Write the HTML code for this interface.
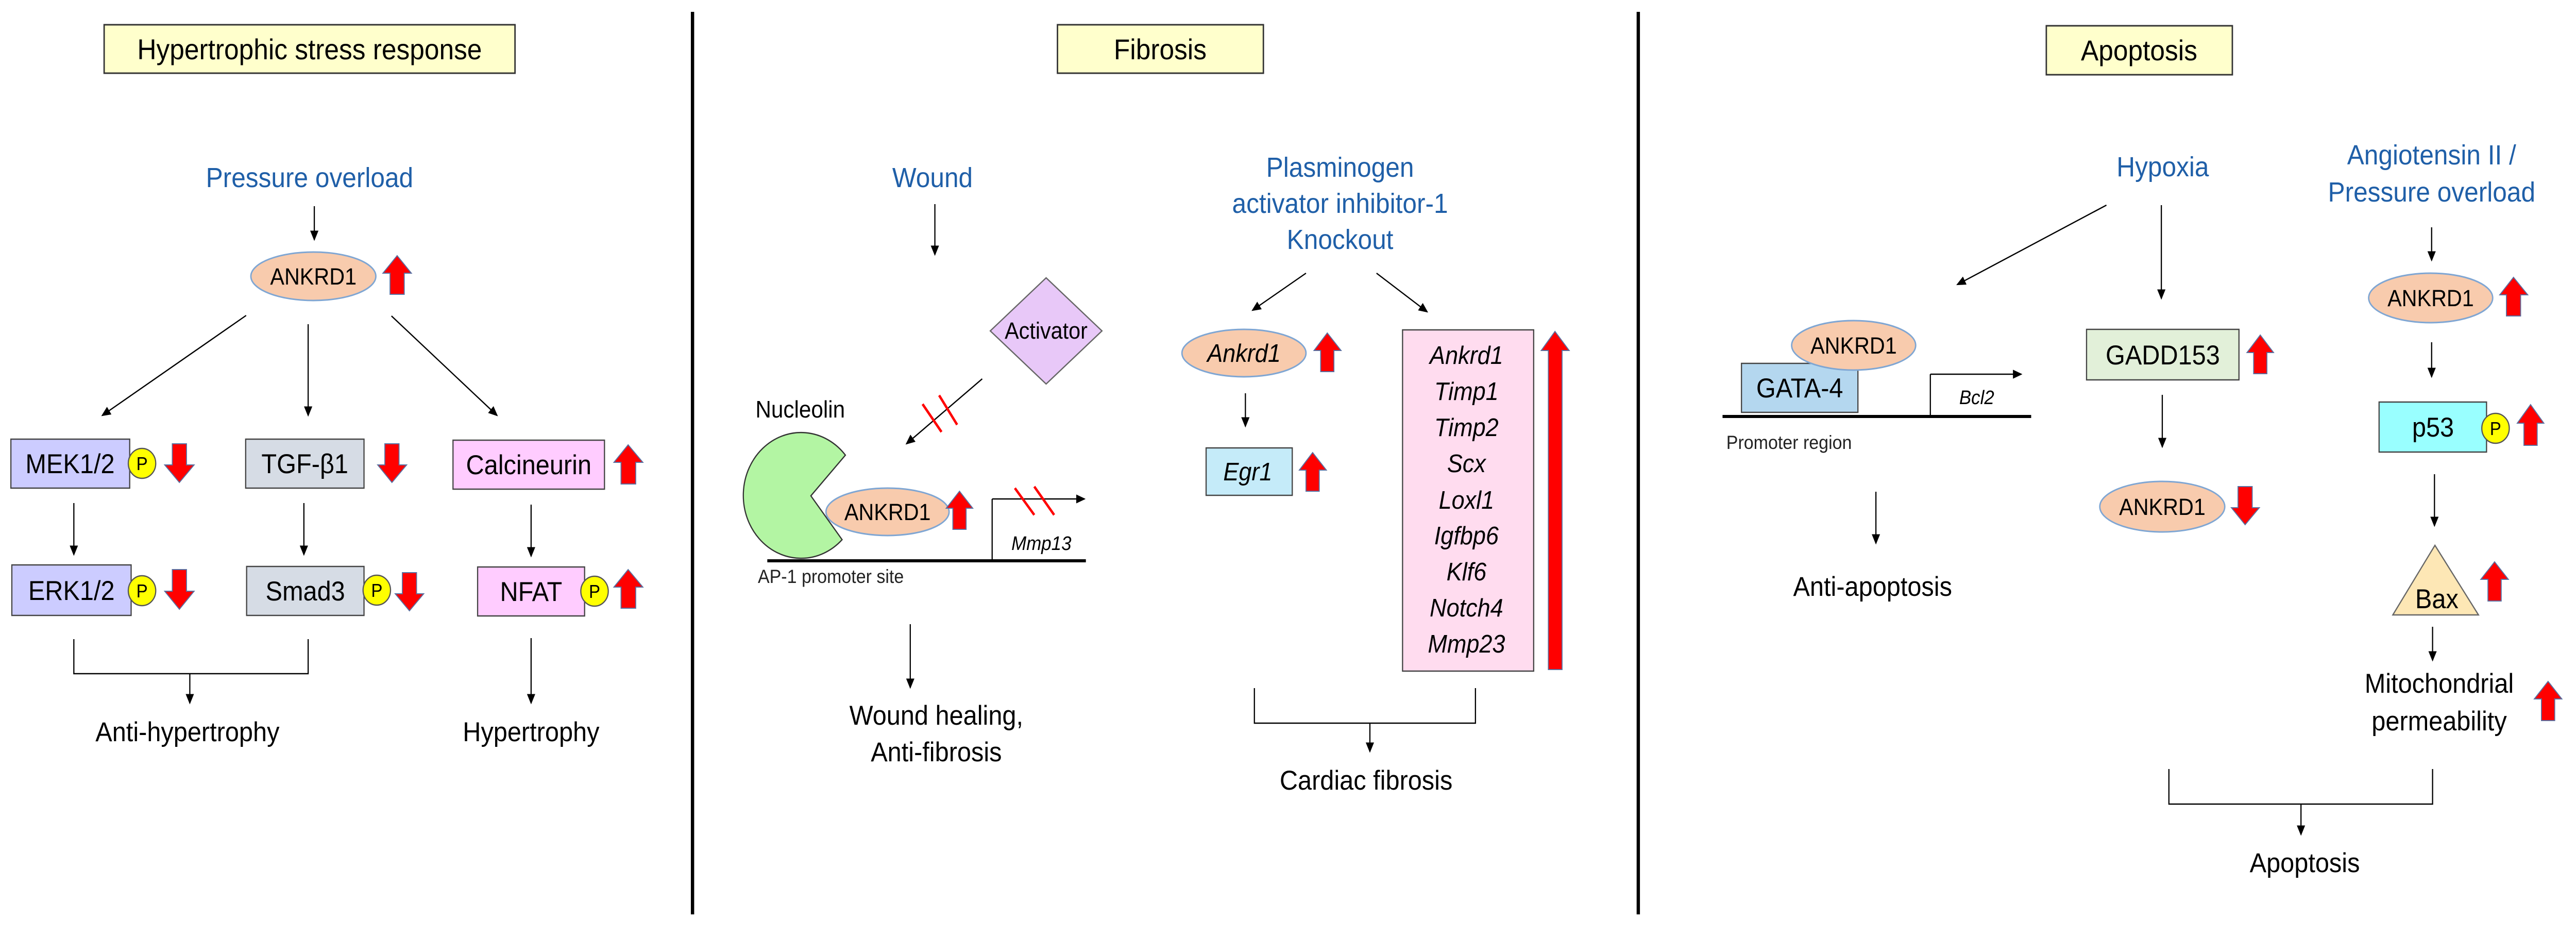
<!DOCTYPE html>
<html><head><meta charset="utf-8"><style>
html,body{margin:0;padding:0;background:#fff;width:100%;height:100%;overflow:hidden;}
svg{display:block;position:fixed;left:0;top:0;width:100%;height:100%;}
text{font-family:"Liberation Sans",sans-serif;}
</style></head><body>
<svg viewBox="0 0 5442 1814" preserveAspectRatio="none" xmlns="http://www.w3.org/2000/svg">
<defs>
<marker id="ah" markerWidth="8" markerHeight="8" refX="7" refY="4" orient="auto" markerUnits="strokeWidth">
<path d="M0,0.5 L8,4 L0,7.5 Z" fill="#000"/>
</marker>
</defs>
<g stroke="#000" stroke-width="3" fill="none">
<line x1="1463" y1="23" x2="1463" y2="1774" stroke-width="7"/>
<line x1="3461" y1="23" x2="3461" y2="1774" stroke-width="7"/>
</g>
<g stroke="#333" stroke-width="3" fill="#ffffcc">
<rect x="220" y="48" width="868" height="94"/>
<rect x="2234" y="48" width="435" height="94"/>
<rect x="4323" y="50" width="393" height="95"/>
</g>
<g font-size="56" text-anchor="middle" fill="#000">
<text x="654" y="115">Hypertrophic stress response</text>
<text x="2451" y="115">Fibrosis</text>
<text x="4519" y="117">Apoptosis</text>
</g>
<g stroke="#000" stroke-width="2.5" fill="none" marker-end="url(#ah)">
<line x1="664" y1="400" x2="664" y2="465"/>
<line x1="520" y1="612" x2="216" y2="806"/>
<line x1="651" y1="629" x2="651" y2="806"/>
<line x1="827" y1="613" x2="1050" y2="806"/>
<line x1="156" y1="976" x2="156" y2="1076"/>
<line x1="642" y1="976" x2="642" y2="1076"/>
<line x1="1122" y1="979" x2="1122" y2="1079"/>
<line x1="401" y1="1307" x2="401" y2="1364"/>
<line x1="1122" y1="1238" x2="1122" y2="1364"/>
<line x1="1975" y1="396" x2="1975" y2="494"/>
<line x1="2075" y1="735" x2="1915" y2="861"/>
<line x1="2096" y1="968" x2="2291" y2="968"/>
<line x1="1923" y1="1211" x2="1923" y2="1334"/>
<line x1="2759" y1="530" x2="2646" y2="602"/>
<line x1="2908" y1="530" x2="3015" y2="605"/>
<line x1="2631" y1="763" x2="2631" y2="827"/>
<line x1="2894" y1="1403" x2="2894" y2="1458"/>
<line x1="4450" y1="398" x2="4135" y2="552"/>
<line x1="4566" y1="398" x2="4566" y2="579"/>
<line x1="4078" y1="726" x2="4270" y2="726"/>
<line x1="3963" y1="954" x2="3963" y2="1054"/>
<line x1="4568" y1="766" x2="4568" y2="867"/>
<line x1="5137" y1="441" x2="5137" y2="505"/>
<line x1="5137" y1="664" x2="5137" y2="731"/>
<line x1="5143" y1="920" x2="5143" y2="1020"/>
<line x1="5139" y1="1216" x2="5139" y2="1281"/>
<line x1="4861" y1="1560" x2="4861" y2="1619"/>
</g>
<g stroke="#000" stroke-width="2.5" fill="none">
<polyline points="156,1240 156,1307 651,1307 651,1240"/>
<polyline points="2650,1335 2650,1403 3117,1403 3117,1335"/>
<polyline points="4582,1492 4582,1560 5139,1560 5139,1492"/>
<line x1="2096" y1="1088" x2="2096" y2="968"/>
<line x1="4078" y1="808" x2="4078" y2="726"/>
<line x1="1621" y1="1088" x2="2294" y2="1088" stroke-width="6"/>
<line x1="3639" y1="808" x2="4291" y2="808" stroke-width="6"/>
</g>
<g stroke="#ff0000" stroke-width="5">
<line x1="1949" y1="784" x2="1989" y2="838"/>
<line x1="1984" y1="767" x2="2022" y2="824"/>
<line x1="2144" y1="947" x2="2185" y2="999"/>
<line x1="2185" y1="944" x2="2227" y2="999"/>
</g>
<g stroke="#444" stroke-width="2.5">
<rect x="23" y="852" width="251" height="95" fill="#ccccff"/>
<rect x="519" y="852" width="250" height="95" fill="#d6dce5"/>
<rect x="957" y="854" width="320" height="95" fill="#ffccff"/>
<rect x="25" y="1096" width="252" height="98" fill="#ccccff"/>
<rect x="521" y="1099" width="248" height="95" fill="#d6dce5"/>
<rect x="1009" y="1100" width="226" height="95" fill="#ffccff"/>
<rect x="2548" y="869" width="182" height="92" fill="#c5ebf9"/>
<rect x="2963" y="640" width="277" height="662" fill="#ffdcef"/>
<rect x="3679" y="705" width="246" height="95" fill="#b4d7ef"/>
<rect x="4408" y="639" width="322" height="98" fill="#e2f0d9"/>
<rect x="5026" y="780" width="227" height="97" fill="#99ffff"/>
<path d="M2210,539 L2328,642 L2210,745 L2092,642 Z" fill="#e8c8f8" stroke="#666"/>
<path d="M1713,962 L1786,883 A122,122 0 1,0 1779,1047 Z" fill="#b3f5a3" stroke="#333"/>
<path d="M5144,1058 L5236,1193 L5055,1193 Z" fill="#fde7b5" stroke="#666"/>
</g>
<g fill="#f8cbad" stroke="#7fa6d3" stroke-width="3">
<ellipse cx="662" cy="536" rx="132" ry="47"/>
<ellipse cx="1875" cy="993" rx="130" ry="46"/>
<ellipse cx="2628" cy="685" rx="131" ry="46"/>
<ellipse cx="3916" cy="670" rx="131" ry="48"/>
<ellipse cx="4568" cy="983" rx="132" ry="49"/>
<ellipse cx="5135" cy="578" rx="131" ry="48"/>
</g>
<g fill="#ffff00" stroke="#555" stroke-width="2.5">
<circle cx="300" cy="899" r="29"/>
<circle cx="300" cy="1146" r="29"/>
<circle cx="796" cy="1145" r="29"/>
<circle cx="1256" cy="1147" r="29"/>
<circle cx="5272" cy="831" r="29"/>
</g>
<g font-size="36" text-anchor="middle" fill="#000">
<text x="300" y="912">P</text><text x="300" y="1159">P</text>
<text x="796" y="1158">P</text><text x="1256" y="1160">P</text>
<text x="5272" y="844">P</text>
</g>
<g fill="#ff0000" stroke="#5a6fa0" stroke-width="2">
<path d="M839,496 L869,530 L854,530 L854,571 L824,571 L824,530 L809,530Z"/>
<path d="M379,936 L410,902 L394,902 L394,861 L364,861 L364,902 L348,902Z"/>
<path d="M828,936 L859,902 L843,902 L843,861 L813,861 L813,902 L798,902Z"/>
<path d="M1327,863 L1358,897 L1343,897 L1343,939 L1312,939 L1312,897 L1297,897Z"/>
<path d="M379,1182 L410,1147 L394,1147 L394,1105 L364,1105 L364,1147 L348,1147Z"/>
<path d="M865,1185 L895,1152 L880,1152 L880,1111 L850,1111 L850,1152 L835,1152Z"/>
<path d="M1327,1105 L1358,1139 L1343,1139 L1343,1180 L1312,1180 L1312,1139 L1297,1139Z"/>
<path d="M2027,953 L2055,986 L2041,986 L2041,1027 L2013,1027 L2013,986 L1999,986Z"/>
<path d="M2804,646 L2833,680 L2818,680 L2818,721 L2790,721 L2790,680 L2776,680Z"/>
<path d="M2773,878 L2802,912 L2787,912 L2787,953 L2759,953 L2759,912 L2745,912Z"/>
<path d="M3285,643 L3315,680 L3300,680 L3300,1299 L3271,1299 L3271,680 L3256,680Z"/>
<path d="M4775,650 L4803,684 L4789,684 L4789,725 L4761,725 L4761,684 L4747,684Z"/>
<path d="M4743,1018 L4773,985 L4758,985 L4758,944 L4728,944 L4728,985 L4714,985Z"/>
<path d="M5310,538 L5340,572 L5325,572 L5325,613 L5295,613 L5295,572 L5281,572Z"/>
<path d="M5346,785 L5374,821 L5360,821 L5360,864 L5332,864 L5332,821 L5318,821Z"/>
<path d="M5270,1090 L5299,1124 L5284,1124 L5284,1166 L5256,1166 L5256,1124 L5241,1124Z"/>
<path d="M5383,1322 L5412,1356 L5397,1356 L5397,1398 L5369,1398 L5369,1356 L5354,1356Z"/>
</g>
<g font-size="54" text-anchor="middle" fill="#1f5fa8">
<text x="654" y="363">Pressure overload</text>
<text x="1970" y="363">Wound</text>
<text x="2831" y="343">Plasminogen</text>
<text x="2831" y="413">activator inhibitor-1</text>
<text x="2831" y="483">Knockout</text>
<text x="4569" y="342">Hypoxia</text>
<text x="5137" y="319">Angiotensin II /</text>
<text x="5137" y="391">Pressure overload</text>
</g>
<g font-size="53" text-anchor="middle" fill="#000">
<text x="148" y="918">MEK1/2</text>
<text x="644" y="918">TGF-β1</text>
<text x="1117" y="920">Calcineurin</text>
<text x="151" y="1164">ERK1/2</text>
<text x="645" y="1165">Smad3</text>
<text x="1122" y="1166">NFAT</text>
<text x="396" y="1438">Anti-hypertrophy</text>
<text x="1122" y="1438">Hypertrophy</text>
<text x="1978" y="1406">Wound healing,</text>
<text x="1978" y="1477">Anti-fibrosis</text>
<text x="2886" y="1532">Cardiac fibrosis</text>
<text x="3802" y="771">GATA-4</text>
<text x="4569" y="707">GADD153</text>
<text x="5140" y="847">p53</text>
<text x="5148" y="1180">Bax</text>
<text x="3956" y="1156">Anti-apoptosis</text>
<text x="5153" y="1344">Mitochondrial</text>
<text x="5153" y="1417">permeability</text>
<text x="4869" y="1692">Apoptosis</text>
</g>
<g font-size="45" text-anchor="middle" fill="#000">
<text x="662" y="552">ANKRD1</text>
<text x="1875" y="1009">ANKRD1</text>
<text x="3916" y="686">ANKRD1</text>
<text x="4568" y="999">ANKRD1</text>
<text x="5135" y="594">ANKRD1</text>
<text x="2210" y="657">Activator</text>
</g>
<g font-size="46" fill="#000">
<text x="1596" y="810">Nucleolin</text>
</g>
<g font-size="37" fill="#222">
<text x="1601" y="1131">AP-1 promoter site</text>
<text x="3647" y="871">Promoter region</text>
</g>
<g font-size="38" font-style="italic" text-anchor="middle" fill="#000">
<text x="2200" y="1067">Mmp13</text>
<text x="4176" y="784">Bcl2</text>
</g>
<g font-size="49" font-style="italic" text-anchor="middle" fill="#000">
<text x="2628" y="702">Ankrd1</text>
<text x="2636" y="932">Egr1</text>
<text x="3098" y="706">Ankrd1</text>
<text x="3098" y="776">Timp1</text>
<text x="3098" y="846">Timp2</text>
<text x="3098" y="916">Scx</text>
<text x="3098" y="987">Loxl1</text>
<text x="3098" y="1056">Igfbp6</text>
<text x="3098" y="1126">Klf6</text>
<text x="3098" y="1196">Notch4</text>
<text x="3098" y="1266">Mmp23</text>
</g>
</svg>
</body></html>
